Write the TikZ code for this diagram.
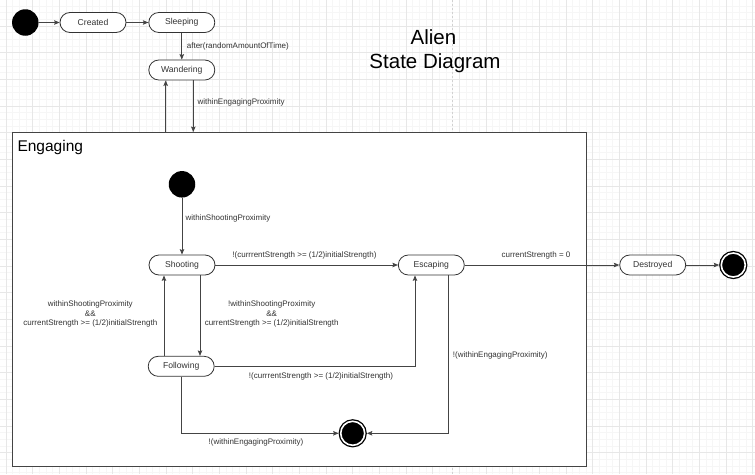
\documentclass[tikz,border=0pt]{standalone}
\usepackage{fontspec}
\setmainfont{Liberation Sans}
\usetikzlibrary{arrows.meta}
\definecolor{minorgrid}{HTML}{F6F6F6}
\definecolor{majorgrid}{HTML}{E7E7E7}
\definecolor{linecol}{HTML}{444444}
\definecolor{txtcol}{HTML}{333333}
\begin{document}
\begin{tikzpicture}[x=1pt,y=-1pt,
  statebox/.style={draw=txtcol, line width=0.8pt, rounded corners=10pt,
    minimum width=66pt, minimum height=20pt, inner sep=0pt,
    font=\fontsize{8.6}{10}\selectfont, text=txtcol, fill=white},
  initst/.style={circle, fill=black, minimum size=26.5pt, inner sep=0pt},
  finalst/.style={circle, fill=black, minimum size=24pt, inner sep=0pt,
    draw=black, line width=1.3pt, double=white, double distance=1.6pt, outer sep=2.1pt},
  edge/.style={draw=linecol, line width=0.8pt, -{Stealth[length=5.5pt,width=4.5pt,inset=1pt]}},
  elabel/.style={font=\fontsize{8}{9.5}\selectfont, text=txtcol, inner sep=0pt},
  gridminor/.style={draw=minorgrid, line width=0.5pt},
  gridmajor/.style={draw=majorgrid, line width=0.6pt}
]
\useasboundingbox (0,0) rectangle (755,474);
\fill[white] (0,0) rectangle (755,474);
% grid
\foreach \i in {0,...,114} \draw[gridminor] (-0.667+\i*6.6667,0) -- (-0.667+\i*6.6667,474);
\foreach \i in {0,...,72} \draw[gridminor] (0,-0.7+\i*6.6667) -- (755,-0.7+\i*6.6667);
\foreach \i in {0,...,28} \draw[gridmajor] (6+\i*26.6667,0) -- (6+\i*26.6667,474);
\foreach \i in {0,...,18} \draw[gridmajor] (0,-0.7+\i*26.6667) -- (755,-0.7+\i*26.6667);
\draw[draw=black!18, line width=0.5pt, dash pattern=on 2pt off 2pt] (452.7,0) -- (452.7,474);

% title
\node[font=\fontsize{20.5}{24}\selectfont, text=black, anchor=base, inner sep=0pt] (title1) at (433.5,44.3) {Alien};
\node[font=\fontsize{20.5}{24}\selectfont, text=black, anchor=base, inner sep=0pt] (title2) at (435,68.3) {State Diagram};

% composite state
\node[draw=linecol, line width=1pt, fill=white, minimum width=573.5pt, minimum height=334pt, inner sep=0pt] (engaging) at (299.25,299.5) {};
\node[font=\fontsize{15.5}{18}\selectfont, text=black, anchor=base west, inner sep=0pt] (englabel) at (17.3,151.5) {Engaging};

% top states
\node[initst] (init1) at (25.3,22.5) {};
\node[statebox] (created) at (93,22.5) {Created};
\node[statebox] (sleeping) at (181.8,22.5) {Sleeping};
\node[statebox] (wandering) at (181.8,70) {Wandering};

% inner states
\node[initst] (init2) at (182,184.3) {};
\node[statebox] (shooting) at (182,265) {Shooting};
\node[statebox] (following) at (181.2,366.3) {Following};
\node[statebox] (escaping) at (431.3,265) {Escaping};
\node[finalst] (final2) at (352.7,433.3) {};

% outer states
\node[statebox] (destroyed) at (652.7,265) {Destroyed};
\node[finalst] (final1) at (733.3,265) {};

% helper coordinates
\coordinate (wdown) at (193.3,0);
\coordinate (wup) at (165.7,0);
\coordinate (sfd) at (200,0);
\coordinate (fsu) at (164,0);
\coordinate (fe) at (415,0);
\coordinate (ef) at (448.3,0);

% connectors
\draw[edge] (init1) -- (created);
\draw[edge] (created) -- (sleeping);
\draw[edge] (sleeping) -- (wandering);
\draw[edge] (wandering.south -| wdown) -- (engaging.north -| wdown);
\draw[edge] (engaging.north -| wup) -- (wandering.south -| wup);
\draw[edge] (init2) -- (shooting);
\draw[edge] (shooting) -- (escaping);
\draw[edge] (shooting.south -| sfd) -- (following.north -| sfd);
\draw[edge] (following.north -| fsu) -- (shooting.south -| fsu);
\draw[edge] (following.east) -| (escaping.south -| fe);
\draw[edge] (following.south) |- (final2.west);
\draw[edge] (escaping.south -| ef) |- (final2.east);
\draw[edge] (escaping) -- (destroyed);
\draw[edge] (destroyed) -- (final1);

% labels
\node[elabel, anchor=west] (l1) at (186.7,46.7) {after(randomAmountOfTime)};
\node[elabel, anchor=west] (l2) at (197.3,102.3) {withinEngagingProximity};
\node[elabel, anchor=west] (l3) at (185.3,218.7) {withinShootingProximity};
\node[elabel] (l4) at (304.5,255.3) {!(currrentStrength >= (1/2)initialStrength)};
\node[elabel] (l5) at (536,255) {currentStrength = 0};
\node[elabel, align=center] (l6) at (90.3,314) {withinShootingProximity\\\&\&\\currentStrength >= (1/2)initialStrength};
\node[elabel, align=center] (l7) at (271.7,314) {!withinShootingProximity\\\&\&\\currentStrength >= (1/2)initialStrength};
\node[elabel] (l8) at (321,376.5) {!(currrentStrength >= (1/2)initialStrength)};
\node[elabel] (l9) at (256,442.7) {!(withinEngagingProximity)};
\node[elabel, anchor=west] (l10) at (452.7,355.7) {!(withinEngagingProximity)};
\end{tikzpicture}
\end{document}
